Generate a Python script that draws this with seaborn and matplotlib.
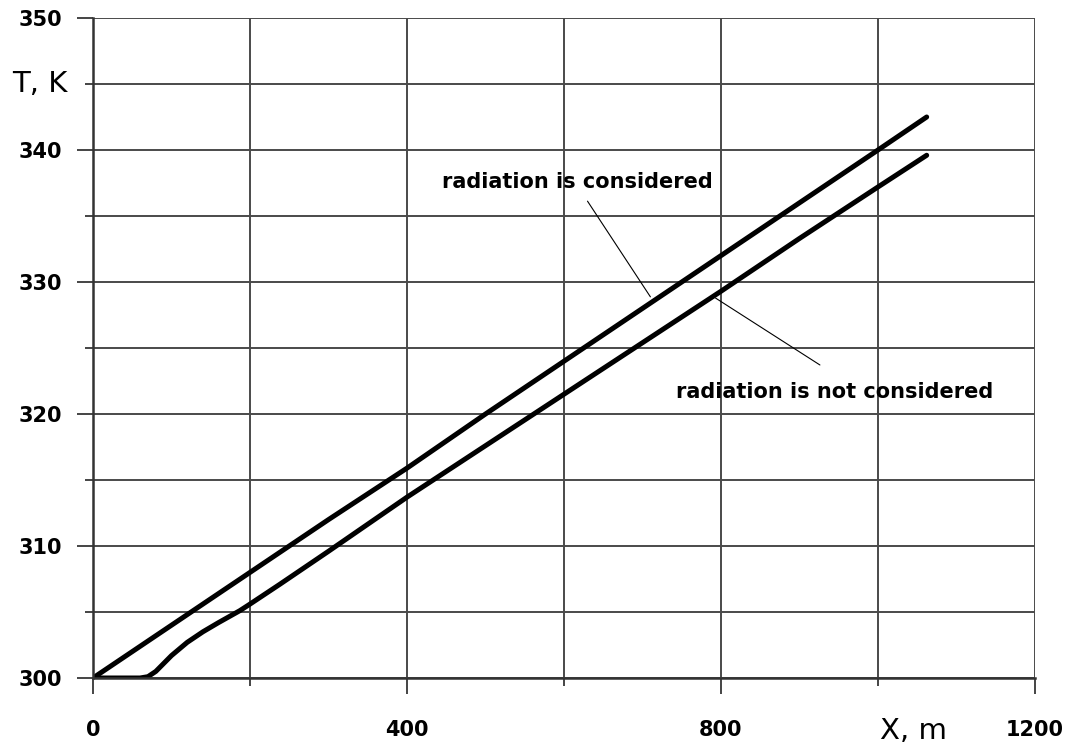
import matplotlib
matplotlib.use("Agg")
import matplotlib.pyplot as plt
import seaborn as sns
import pandas as pd
from matplotlib.ticker import MultipleLocator

# --- data ---
x_rad = [0, 100, 200, 300, 400, 500, 600, 700, 800, 900, 1000, 1062]
t_rad = [300.0, 304.0, 308.0, 312.0, 315.9, 320.0, 324.0, 328.0, 332.0, 336.0, 340.0, 342.5]

x_norad = [0, 30, 60, 70, 80, 90, 100, 110, 120, 140, 160, 187, 200, 238, 300, 400, 500, 600,
           700, 800, 900, 1000, 1062]
t_norad = [300.0, 300.0, 300.0, 300.1, 300.5, 301.1, 301.7, 302.2, 302.7, 303.5, 304.2, 305.1,
           305.6, 307.1, 309.6, 313.7, 317.6, 321.5, 325.4, 329.3, 333.3, 337.2, 339.6]

x_ticks = [0, 400, 800, 1200]
y_ticks = [300, 310, 320, 330, 340, 350]

label_rad = "radiation is considered"
label_norad = "radiation is not considered"

df = pd.concat([
    pd.DataFrame({"X": x_rad, "T": t_rad, "case": label_rad}),
    pd.DataFrame({"X": x_norad, "T": t_norad, "case": label_norad}),
])

sns.set_style("white")
plt.rcParams["font.family"] = ["DejaVu Sans"]
plt.rcParams["text.color"] = "black"

fig = plt.figure(figsize=(10.72, 7.47), dpi=100)
ax = fig.add_axes([93 / 1072, 1 - 678 / 747, (1035 - 93) / 1072, (678 - 18) / 747])

sns.lineplot(data=df, x="X", y="T", hue="case", palette=["black", "black"],
             linewidth=3.6, legend=False, ax=ax, sort=False)

ax.set_xlim(0, 1200)
ax.set_ylim(300, 350)
ax.set_xticks(x_ticks)
ax.set_yticks(y_ticks)
ax.xaxis.set_minor_locator(MultipleLocator(200))
ax.yaxis.set_minor_locator(MultipleLocator(5))
ax.grid(which="both", color="#4a4a4a", linewidth=1.4)
ax.set_axisbelow(True)
ax.set_xlabel("")
ax.set_ylabel("")

for s in ["top", "right"]:
    ax.spines[s].set_visible(False)
for s in ["left", "bottom"]:
    ax.spines[s].set_color("#333333")
    ax.spines[s].set_linewidth(1.8)

ax.tick_params(which="both", bottom=True, left=True, direction="out", width=1.4,
               color="#444444", labelcolor="black")
ax.tick_params(which="major", length=11.5, labelsize=15)
ax.tick_params(which="minor", length=5.8)
ax.tick_params(axis="x", which="major", pad=19)
ax.tick_params(axis="y", which="major", pad=11)
for lab in ax.get_xticklabels() + ax.get_yticklabels():
    lab.set_fontweight("bold")

fig.text(12 / 1072, 1 - 84 / 747, "T, K", fontsize=21, va="center", ha="left")
fig.text(914 / 1072, 1 - 731 / 747, "X, m", fontsize=21, va="center", ha="center")

ax.text(617, 337.6, label_rad, fontsize=15, fontweight="bold", ha="center", va="center")
ax.text(945, 321.7, label_norad, fontsize=15, fontweight="bold", ha="center", va="center")

ax.annotate("", xy=(712, 328.7), xytext=(628, 336.3),
            arrowprops=dict(arrowstyle="-", color="black", lw=0.8))
ax.annotate("", xy=(790, 328.9), xytext=(929, 323.6),
            arrowprops=dict(arrowstyle="-", color="black", lw=0.8))

fig.savefig("out.png", dpi=100)
